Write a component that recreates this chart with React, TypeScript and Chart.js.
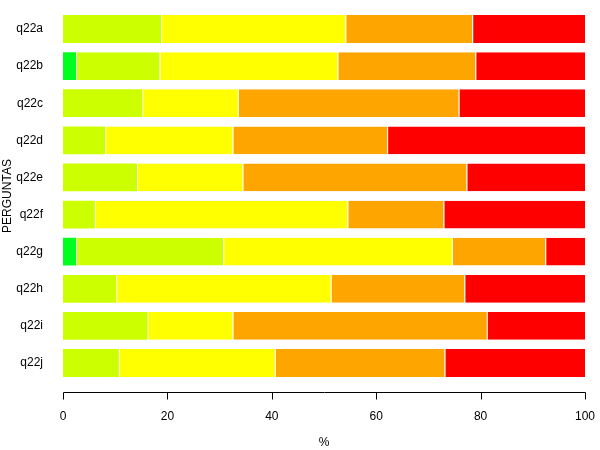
import React, { useEffect, useRef } from "react";
import { Chart, registerables } from "chart.js";

Chart.register(...registerables);

const categories = ["q22a", "q22b", "q22c", "q22d", "q22e", "q22f", "q22g", "q22h", "q22i", "q22j"];
const xTicks = [0, 20, 40, 60, 80, 100];

const seriesNames = ["1", "2", "3", "4", "5"];
const green = [0, 2.5, 0, 0, 0, 0, 2.5, 0, 0, 0];
const yellowGreen = [18.8, 16.0, 15.2, 8.1, 14.2, 6.1, 28.2, 10.2, 16.2, 10.7];
const yellow = [35.3, 34.1, 18.3, 24.4, 20.2, 48.4, 43.8, 41.1, 16.3, 29.9];
const orange = [24.3, 26.4, 42.3, 29.6, 42.9, 18.4, 17.9, 25.6, 48.7, 32.5];
const red = [21.6, 21.0, 24.2, 37.9, 22.7, 27.1, 7.6, 23.1, 18.8, 26.9];

const colors = ["#00FF1E", "#CCFF00", "#FFFF00", "#FFA500", "#FF0000"];
const seriesData = [green, yellowGreen, yellow, orange, red];

const FONT = "'Liberation Sans', Arial, Helvetica, sans-serif";

const axisPlugin = {
  id: "rAxis",
  afterDraw(chart: any) {
    const ctx = chart.ctx;
    const xs = chart.scales.x;
    const y0 = 392.5;
    ctx.save();
    ctx.strokeStyle = "#000";
    ctx.lineWidth = 1;
    ctx.beginPath();
    const xa = Math.round(xs.getPixelForValue(xTicks[0])) + 0.5;
    const xb = Math.round(xs.getPixelForValue(xTicks[xTicks.length - 1])) + 0.5;
    ctx.moveTo(xa, y0);
    ctx.lineTo(xb, y0);
    for (const t of xTicks) {
      const px = Math.round(xs.getPixelForValue(t)) + 0.5;
      ctx.moveTo(px, y0);
      ctx.lineTo(px, y0 + 7);
    }
    ctx.stroke();
    ctx.restore();
  },
};

export default function App() {
  const ref = useRef<HTMLCanvasElement | null>(null);

  useEffect(() => {
    if (!ref.current) return;
    Chart.defaults.font.family = FONT;
    Chart.defaults.font.size = 12;
    Chart.defaults.color = "#000";

    const datasets = seriesData.map((data, i) => ({
      label: seriesNames[i],
      data,
      backgroundColor: colors[i],
      borderColor: "#FFFFFF",
      borderSkipped: false as const,
      borderWidth: (c: any) => {
        const di = c.dataIndex;
        let prev = 0;
        for (let k = 0; k < c.datasetIndex; k++) prev += seriesData[k][di];
        return { left: prev > 0.01 ? 1 : 0, right: 0, top: 0, bottom: 0 };
      },
      categoryPercentage: 1,
      barPercentage: 0.75,
    }));

    const chart = new Chart(ref.current, {
      type: "bar",
      data: { labels: categories, datasets },
      options: {
        indexAxis: "y",
        animation: false,
        responsive: false,
        devicePixelRatio: 1,
        layout: { padding: { left: 0, right: 15, top: 10.4, bottom: 0 } },
        plugins: {
          legend: { display: false },
          tooltip: { enabled: false },
        },
        scales: {
          x: {
            type: "linear",
            stacked: true,
            min: 0,
            max: 100,
            afterBuildTicks: (s: any) => {
              s.ticks = xTicks.map((v) => ({ value: v }));
            },
            afterFit: (s: any) => {
              s.height = 68.4;
              s.paddingLeft = 0;
              s.paddingRight = 0;
              s.paddingTop = 0;
              s.paddingBottom = 0;
            },
            grid: { display: false, drawTicks: false },
            border: { display: false },
            ticks: { padding: 28, color: "#000", font: { size: 12 }, maxRotation: 0 },
            title: { display: true, text: "%", color: "#000", font: { size: 12 }, padding: { top: 0, bottom: 0 } },
          },
          y: {
            type: "category",
            stacked: true,
            afterFit: (s: any) => {
              s.width = 63;
              s.paddingLeft = 0;
              s.paddingRight = 0;
              s.paddingTop = 0;
              s.paddingBottom = 0;
            },
            grid: { display: false, drawTicks: false },
            border: { display: false },
            ticks: { padding: 20, color: "#000", font: { size: 12 } },
            title: { display: true, text: "PERGUNTAS", color: "#000", font: { size: 12 }, padding: { top: 0, bottom: 0 } },
          },
        },
      },
      plugins: [axisPlugin],
    } as any);

    return () => chart.destroy();
  }, []);

  return (
    <div style={{ position: "absolute", left: 0, top: 0, width: 600, height: 450, background: "#fff" }}>
      <canvas ref={ref} width={600} height={450} style={{ display: "block", width: 600, height: 450 }} />
    </div>
  );
}
